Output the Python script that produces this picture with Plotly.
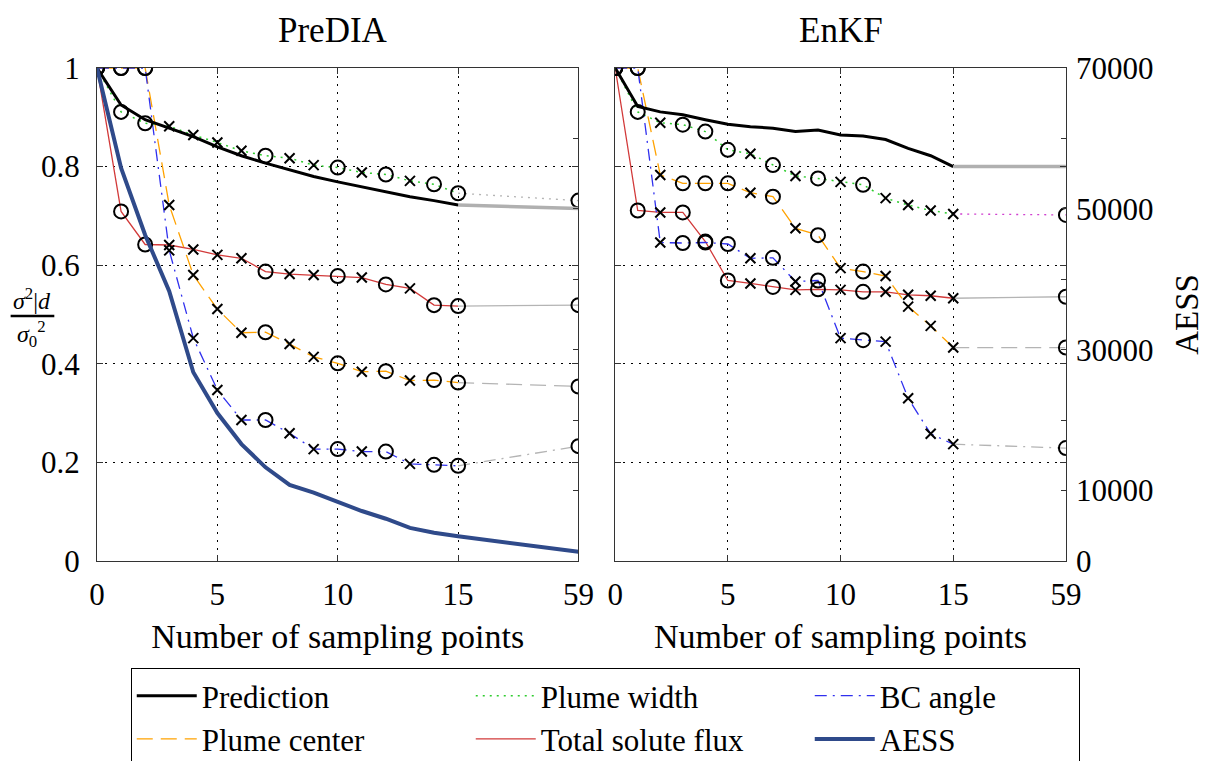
import plotly.graph_objects as go

# ---------------- data ----------------
tick_labels = ["0", "5", "10", "15", "59"]
sample_counts = list(range(16)) + [59]          # number of sampling points

# PreDIA
predia_prediction = [1.0, 0.925, 0.895, 0.878, 0.861, 0.840, 0.822, 0.807, 0.793, 0.780,
                     0.769, 0.759, 0.749, 0.739, 0.731, 0.722, 0.715]
predia_width = [1.0, 0.911, 0.888, 0.882, 0.864, 0.849, 0.832, 0.822, 0.817, 0.803,
                0.798, 0.788, 0.784, 0.771, 0.764, 0.746, 0.731]
predia_center = [1.0, 1.0, 1.0, 0.722, 0.580, 0.511, 0.463, 0.464, 0.440, 0.414,
                 0.401, 0.384, 0.385, 0.366, 0.367, 0.362, 0.354]
predia_flux = [1.0, 0.709, 0.642, 0.641, 0.632, 0.621, 0.614, 0.587, 0.582, 0.580,
               0.578, 0.575, 0.561, 0.553, 0.519, 0.517, 0.519]
predia_bc = [1.0, 1.0, 1.0, 0.630, 0.452, 0.347, 0.286, 0.286, 0.259, 0.227,
             0.227, 0.222, 0.222, 0.197, 0.195, 0.193, 0.233]
predia_aess = [70000, 55800, 46300, 38300, 26800, 21000, 16600, 13300, 10800, 9700,
               8400, 7100, 6000, 4700, 4000, 3500, 1300]
predia_markers = ["o", "o", "o", "x", "x", "x", "x", "o", "x", "x", "o", "x", "o", "x", "o", "o", "o"]

# EnKF
enkf_prediction = [1.0, 0.922, 0.911, 0.905, 0.895, 0.886, 0.881, 0.878, 0.871, 0.874,
                   0.864, 0.862, 0.855, 0.837, 0.822, 0.800, 0.800]
enkf_width = [1.0, 0.911, 0.889, 0.885, 0.871, 0.834, 0.826, 0.803, 0.781, 0.776,
              0.769, 0.763, 0.736, 0.722, 0.711, 0.704, 0.702]
enkf_center = [1.0, 1.0, 0.783, 0.766, 0.766, 0.766, 0.747, 0.739, 0.675, 0.661,
               0.594, 0.587, 0.578, 0.516, 0.477, 0.433, 0.433]
enkf_flux = [1.0, 0.711, 0.707, 0.707, 0.648, 0.569, 0.563, 0.556, 0.550, 0.551,
             0.550, 0.546, 0.546, 0.540, 0.538, 0.533, 0.536]
enkf_bc = [1.0, 1.0, 0.646, 0.645, 0.646, 0.643, 0.614, 0.615, 0.567, 0.569,
           0.452, 0.448, 0.445, 0.330, 0.258, 0.237, 0.229]
enkf_markers = ["o", "o", "x", "o", "o", "o", "x", "o", "x", "o", "x", "o", "x", "x", "x", "x", "o"]

aess_labelled = [0, 10000, 30000, 50000, 70000]

# ---------------- layout helpers ----------------
SHIFT = 8                       # page body margin of the html page
W, H = 1217 - SHIFT, 761 - SHIFT
ML, MR = 97 - SHIFT, 20
MT = 68 - SHIFT
MB = H - (561 - SHIFT)
GW, GH = W - ML - MR, H - MT - MB
FONT = "Liberation Serif"


def px_x(px):
    """screen pixel x -> paper x"""
    return (px - SHIFT - ML) / GW


def px_y(py):
    """screen pixel y -> paper y"""
    return (H - MB - (py - SHIFT)) / GH


def axis_pos(n):
    # broken axis: 0..15 linear, 59 shown at position 20
    return n if n <= 15 else 20


pos = [axis_pos(n) for n in sample_counts]

styles = {
    "Plume width": dict(color="#2ecc2e", dash="2px,5px", width=1.5),
    "Plume center": dict(color="#ffa200", dash="16px,8px", width=1.3),
    "Total solute flux": dict(color="#d23a3a", dash="solid", width=1.3),
    "BC angle": dict(color="#3030ee", dash="12px,6px,2px,6px", width=1.3),
}
ranks = {"Prediction": 1, "Plume width": 2, "BC angle": 3,
         "Plume center": 4, "Total solute flux": 5, "AESS": 6}
legend_w = {"BC angle": 194, "AESS": 194}

fig = go.Figure()


def add_panel(xa, ya, series, prediction, markers, width_tail, legend):
    for name, vals in series.items():
        st = styles[name]
        fig.add_trace(go.Scatter(
            x=pos[:16], y=vals[:16], mode="lines", xaxis=xa, yaxis=ya,
            line=dict(color=st["color"], dash=st["dash"], width=st["width"]),
            name=name, showlegend=legend, legendrank=ranks[name],
            legendwidth=legend_w.get(name), hoverinfo="skip"))
        tail_color = width_tail if name == "Plume width" else "#b4b4b4"
        fig.add_trace(go.Scatter(
            x=pos[15:], y=vals[15:], mode="lines", xaxis=xa, yaxis=ya,
            line=dict(color=tail_color, dash=st["dash"], width=1.3),
            showlegend=False, hoverinfo="skip"))
    for name, vals in series.items():
        sym = ["circle-open" if m == "o" else "x-thin-open" for m in markers]
        size = [14 if m == "o" else 10 for m in markers]
        fig.add_trace(go.Scatter(
            x=pos, y=vals, mode="markers", xaxis=xa, yaxis=ya,
            marker=dict(symbol=sym, size=size, color="black", opacity=1,
                        line=dict(color="black", width=2)),
            showlegend=False, hoverinfo="skip"))
    fig.add_trace(go.Scatter(
        x=pos[:16], y=prediction[:16], mode="lines", xaxis=xa, yaxis=ya,
        line=dict(color="black", width=3), name="Prediction",
        showlegend=legend, legendrank=ranks["Prediction"], hoverinfo="skip"))
    fig.add_trace(go.Scatter(
        x=pos[15:], y=prediction[15:], mode="lines", xaxis=xa, yaxis=ya,
        line=dict(color="#b0b0b0", width=3.5), showlegend=False, hoverinfo="skip"))


add_panel("x", "y",
          {"Total solute flux": predia_flux, "Plume center": predia_center,
           "BC angle": predia_bc, "Plume width": predia_width},
          predia_prediction, predia_markers, "#b4b4b4", True)
add_panel("x2", "y2",
          {"Total solute flux": enkf_flux, "Plume center": enkf_center,
           "BC angle": enkf_bc, "Plume width": enkf_width},
          enkf_prediction, enkf_markers, "#d040d0", False)

fig.add_trace(go.Scatter(
    x=pos, y=predia_aess, mode="lines", xaxis="x", yaxis="y3",
    line=dict(color="#2f4a8a", width=4), name="AESS",
    legendrank=ranks["AESS"], legendwidth=legend_w["AESS"], hoverinfo="skip"))
# keeps the EnKF AESS axis alive (no AESS curve there)
fig.add_trace(go.Scatter(x=[None], y=[None], xaxis="x2", yaxis="y4",
                         showlegend=False, hoverinfo="skip"))

# ---------------- axes ----------------
frame = "#333333"
xcommon = dict(range=[0, 20], tickvals=[0, 5, 10, 15, 20], ticktext=tick_labels,
               ticks="inside", ticklen=6, tickcolor=frame, showline=True,
               linecolor=frame, linewidth=1, mirror="ticks", showgrid=True,
               gridcolor="black", gridwidth=1.2, griddash="2px,6px", zeroline=False,
               tickfont=dict(family=FONT, size=31, color="black"),
               ticklabelstandoff=6,
               title=dict(text="Number of sampling points", standoff=12,
                          font=dict(family=FONT, size=34, color="black")))
ycommon = dict(range=[0, 1], tickvals=[0, 0.2, 0.4, 0.6, 0.8, 1],
               ticktext=["0", "0.2", "0.4", "0.6", "0.8", "1"],
               ticks="inside", ticklen=6, tickcolor=frame, showline=True,
               linecolor=frame, linewidth=1, mirror="ticks", showgrid=True,
               gridcolor="black", gridwidth=1.2, griddash="2px,6px", zeroline=False,
               tickfont=dict(family=FONT, size=31, color="black"),
               ticklabelstandoff=10)
acommon = dict(range=[0, 70000], side="right", ticks="inside",
               ticklen=5, tickcolor=frame, showgrid=False, zeroline=False,
               showline=False, tickfont=dict(family=FONT, size=31, color="black"),
               minor=dict(ticks="inside", ticklen=5, tickcolor=frame,
                          tick0=0, dtick=10000, showgrid=False))

fig.update_layout(
    xaxis=dict(domain=[0, px_x(582)], anchor="y", **xcommon),
    yaxis=dict(anchor="x", **ycommon),
    xaxis2=dict(domain=[px_x(619), px_x(1073)], anchor="y2", **xcommon),
    yaxis2=dict(anchor="x2", **{**ycommon, "showticklabels": False}),
    yaxis3=dict(overlaying="y", anchor="x", showticklabels=False,
                tickvals=aess_labelled, **acommon),
    yaxis4=dict(overlaying="y2", anchor="x2", showticklabels=True,
                tickvals=aess_labelled, ticktext=[str(v) for v in aess_labelled],
                ticklabelstandoff=9,
                title=dict(text="AESS", standoff=22,
                           font=dict(family=FONT, size=33, color="black")),
                **acommon),
)

fig.update_layout(
    width=W, height=H,
    margin=dict(l=ML, r=MR, t=MT, b=MB),
    paper_bgcolor="white", plot_bgcolor="white",
    font=dict(family=FONT, color="black"),
    showlegend=True,
    legend=dict(orientation="h", xref="paper", yref="container",
                x=px_x(131), y=(H - (668 - SHIFT)) / H, xanchor="left", yanchor="top",
                bgcolor="white", bordercolor="black", borderwidth=1,
                font=dict(family=FONT, size=31, color="black"),
                itemwidth=60, entrywidth=264, traceorder="normal"),
    annotations=[
        dict(text="PreDIA", x=px_x(335), y=px_y(30), xref="paper", yref="paper",
             xanchor="center", yanchor="middle",
             showarrow=False, font=dict(family=FONT, size=35)),
        dict(text="EnKF", x=px_x(846), y=px_y(30), xref="paper", yref="paper",
             xanchor="center", yanchor="middle",
             showarrow=False, font=dict(family=FONT, size=35)),
        dict(text="<i>σ</i><sup>2</sup>|<i>d</i>", x=px_x(32), y=px_y(299),
             xref="paper", yref="paper", xanchor="center", yanchor="middle",
             showarrow=False, font=dict(family=FONT, size=24)),
        dict(text="<i>σ</i><sub>0</sub><sup>2</sup>", x=px_x(31), y=px_y(334),
             xref="paper", yref="paper", xanchor="center", yanchor="middle",
             showarrow=False, font=dict(family=FONT, size=24)),
    ],
    shapes=[dict(type="line", xref="paper", yref="paper",
                 x0=px_x(10), x1=px_x(54), y0=px_y(316), y1=px_y(316),
                 line=dict(color="black", width=2.5))],
)

fig.write_html("out.html")
